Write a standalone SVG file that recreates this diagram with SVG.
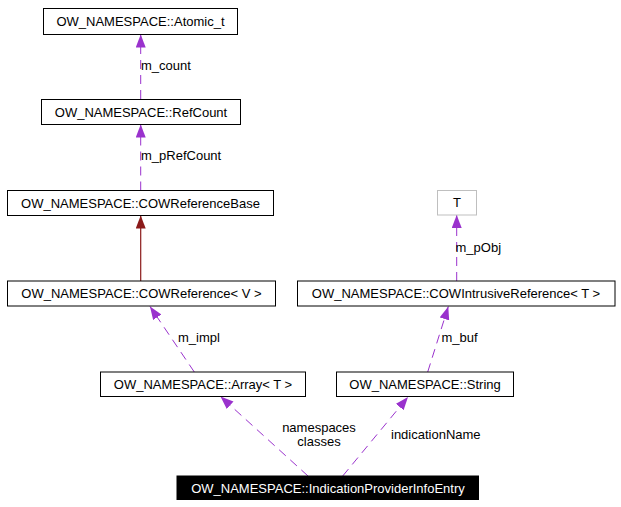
<svg xmlns="http://www.w3.org/2000/svg" width="621" height="507" viewBox="0 0 621 507">
<style>
  text { font-family: "Liberation Sans", Arial, Helvetica, sans-serif; font-size: 13px; fill: #000; }
  .c { text-anchor: middle; }
  .box { fill: #fff; stroke: #000; stroke-width: 1; }
  .gbox { fill: #fff; stroke: #bfbfbf; stroke-width: 1; }
  .rel { fill: none; stroke: #9a32cd; stroke-width: 1; stroke-dasharray: 9,6; }
  .inh { fill: none; stroke: #8b1a1a; stroke-width: 1.2; }
</style>
<defs>
  <marker id="ap" markerUnits="userSpaceOnUse" markerWidth="14" markerHeight="11" refX="13" refY="5" orient="auto">
    <path d="M0,0 L13,5 L0,10 z" fill="#9a32cd"/>
  </marker>
  <marker id="ar" markerUnits="userSpaceOnUse" markerWidth="14" markerHeight="11" refX="13" refY="5" orient="auto">
    <path d="M0,0 L13,5 L0,10 z" fill="#8b1a1a"/>
  </marker>
</defs>
<rect width="621" height="507" fill="#fff"/>
<g id="connectors">
  <path class="rel" d="M140.7,99 L140.7,34.5" marker-end="url(#ap)"/>
  <text x="141" y="70">m_count</text>
  <path class="rel" d="M140.7,190.5 L140.7,124.5" marker-end="url(#ap)"/>
  <text x="141" y="160">m_pRefCount</text>
  <path class="inh" d="M140.7,281 L140.7,215.5" marker-end="url(#ar)"/>
  <path class="rel" d="M194.3,372 L150,306.5" marker-end="url(#ap)"/>
  <text x="178" y="342">m_impl</text>
  <path class="rel" d="M456.7,281 L456.7,215" marker-end="url(#ap)"/>
  <text x="455.5" y="252">m_pObj</text>
  <path class="rel" d="M427.7,372 L448.3,306.5" marker-end="url(#ap)"/>
  <text x="441.5" y="342">m_buf</text>
  <path class="rel" d="M308,476 L220.5,396.5" marker-end="url(#ap)"/>
  <text class="c" x="319" y="432">namespaces</text>
  <text class="c" x="319" y="446">classes</text>
  <path class="rel" d="M342.7,476 L408,397" marker-end="url(#ap)"/>
  <text x="391" y="439">indicationName</text>
</g>
<g id="n_atomic">
  <rect class="box" x="43.5" y="8.5" width="194" height="26"/>
  <text class="c" x="140.5" y="26">OW_NAMESPACE::Atomic_t</text>
</g>
<g id="n_refcount">
  <rect class="box" x="41.5" y="99.5" width="199" height="25"/>
  <text class="c" x="141" y="117">OW_NAMESPACE::RefCount</text>
</g>
<g id="n_cowrefbase">
  <rect class="box" x="7.5" y="190.5" width="266" height="25"/>
  <text class="c" x="140.5" y="208">OW_NAMESPACE::COWReferenceBase</text>
</g>
<g id="n_cowref">
  <rect class="box" x="7.5" y="281" width="268" height="25"/>
  <text class="c" x="141.5" y="298">OW_NAMESPACE::COWReference&lt; V &gt;</text>
</g>
<g id="n_array">
  <rect class="box" x="100.5" y="372" width="205" height="24.5"/>
  <text class="c" x="203" y="389">OW_NAMESPACE::Array&lt; T &gt;</text>
</g>
<g id="n_T">
  <rect class="gbox" x="437.5" y="190.5" width="39" height="24.5"/>
  <text class="c" x="457" y="207">T</text>
</g>
<g id="n_cowintrusive">
  <rect class="box" x="297.5" y="281" width="317.5" height="25"/>
  <text class="c" x="456" y="298">OW_NAMESPACE::COWIntrusiveReference&lt; T &gt;</text>
</g>
<g id="n_string">
  <rect class="box" x="336.5" y="372" width="177" height="24.5"/>
  <text class="c" x="425" y="389">OW_NAMESPACE::String</text>
</g>
<g id="n_main">
  <rect x="177" y="476" width="301.5" height="23.5" fill="#000" stroke="#000"/>
  <text class="c" x="328" y="492.5" style="fill:#fff">OW_NAMESPACE::IndicationProviderInfoEntry</text>
</g>
</svg>
